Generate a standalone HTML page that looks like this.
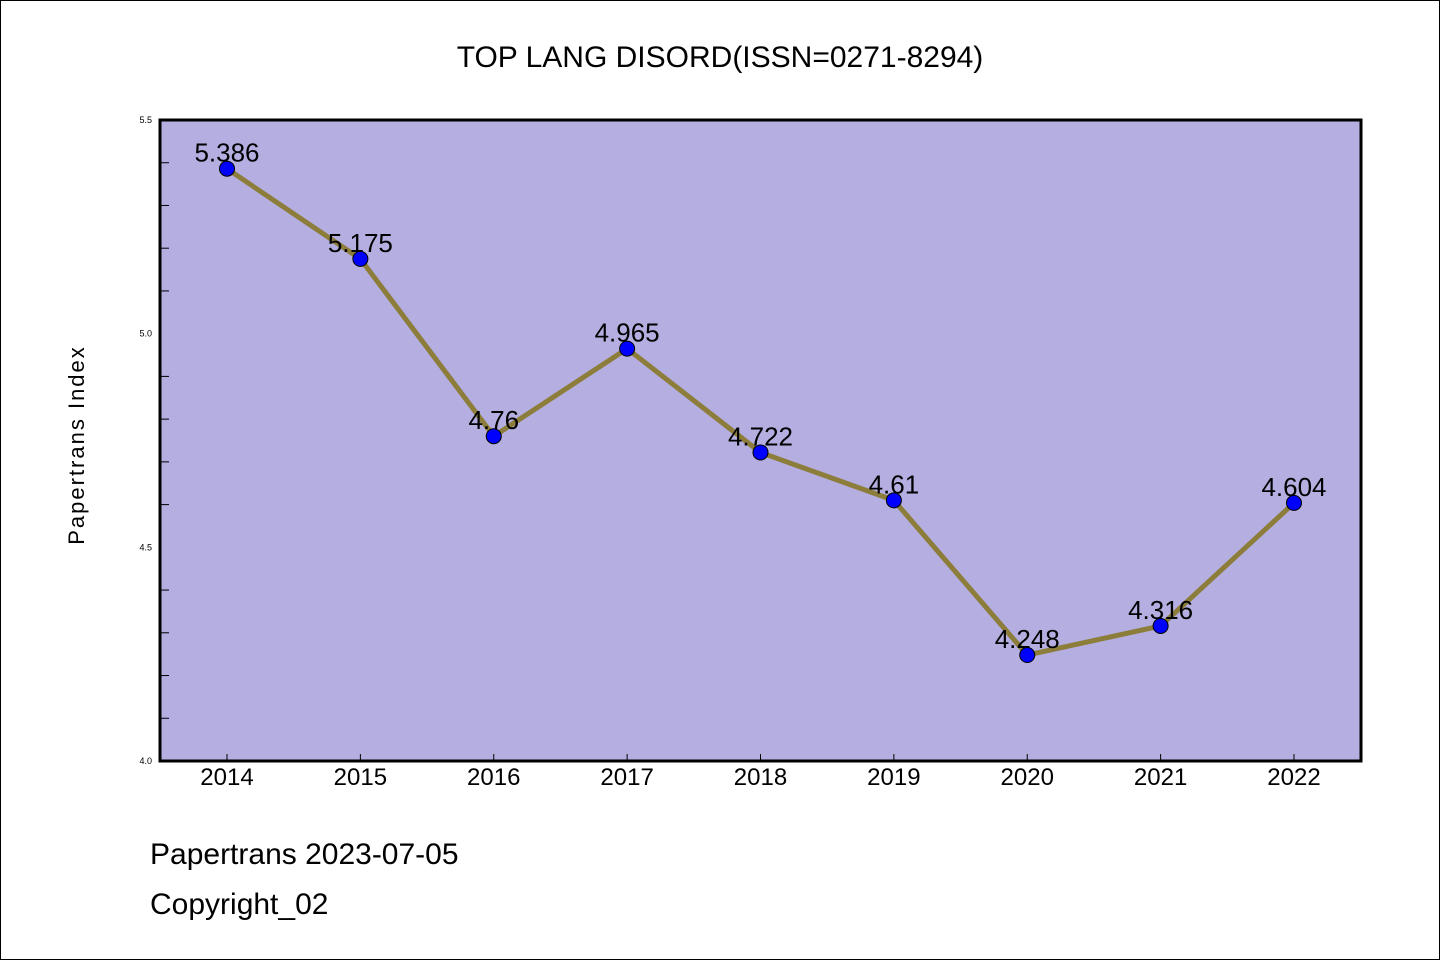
<!DOCTYPE html>
<html><head><meta charset="utf-8"><style>
html,body{margin:0;padding:0;background:#fff}
svg{display:block}
text{font-family:"WenQuanYi Zen Hei","Liberation Sans",sans-serif}
</style></head><body>
<svg id="chart" width="1440" height="960" viewBox="0 0 1440 960">
<rect x="0.5" y="0.5" width="1439" height="959" fill="#fff" stroke="#000"/>
<text x="720" y="67" font-size="30" text-anchor="middle">TOP LANG DISORD(ISSN=0271-8294)</text>
<rect x="160" y="120" width="1201" height="641" fill="#b4aee1"/>
<g id="axes"></g>
<g id="series"></g>
<rect x="160" y="120" width="1201" height="641" fill="none" stroke="#000" stroke-width="3"/>
<text transform="translate(84,445) rotate(-90)" font-size="22" text-anchor="middle" letter-spacing="2">Papertrans Index</text>
<text x="150" y="864" font-size="30">Papertrans 2023-07-05</text>
<text x="150" y="914" font-size="30">Copyright_02</text>
</svg>
<script>
const years = ["2014","2015","2016","2017","2018","2019","2020","2021","2022"];
const values = [5.386,5.175,4.76,4.965,4.722,4.61,4.248,4.316,4.604];
const valueLabels = ["5.386","5.175","4.76","4.965","4.722","4.61","4.248","4.316","4.604"];
const yTicks = [4.0,4.5,5.0,5.5];
const yTickLabels = ["4.0","4.5","5.0","5.5"];
const yMinor = [4.1,4.2,4.3,4.4,4.6,4.7,4.8,4.9,5.1,5.2,5.3,5.4];

const NS="http://www.w3.org/2000/svg";
const x0=227, dx=(1294-227)/8;
function xs(i){return x0+i*dx;}
function ys(v){return 761-(v-4.0)/1.5*641;}
function mk(tag,attrs,parent){const e=document.createElementNS(NS,tag);for(const k in attrs)e.setAttribute(k,attrs[k]);parent.appendChild(e);return e;}
const axes=document.getElementById('axes'), series=document.getElementById('series');
yTicks.forEach((v,i)=>{
  const t=mk('text',{x:152,y:ys(v)+3,'font-size':9,'text-anchor':'end'},axes);
  t.textContent=yTickLabels[i];
  
  
});
yMinor.forEach(v=>{
  const l=mk('line',{x1:160,x2:169,y1:ys(v),y2:ys(v),stroke:'#000','stroke-width':1},axes);
  
  
});
years.forEach((y,i)=>{
  const l=mk('line',{x1:xs(i),x2:xs(i),y1:761,y2:754,stroke:'#000','stroke-width':1},axes);
  
  
  const t=mk('text',{x:xs(i),y:785,'font-size':24,'text-anchor':'middle'},axes);
  t.textContent=y;
  
  
});
const pts=values.map((v,i)=>xs(i)+','+ys(v)).join(' ');
const pl=mk('polyline',{points:pts,fill:'none',stroke:'#8c7d3a','stroke-width':5,'stroke-linejoin':'round'},series);


values.forEach((v,i)=>{
  const c=mk('circle',{cx:xs(i),cy:ys(v),r:7.5,fill:'#0000ff',stroke:'#000','stroke-width':1},series);
  
  
  const t=mk('text',{x:xs(i),y:ys(v)-7,'font-size':26,'text-anchor':'middle'},series);
  t.textContent=valueLabels[i];
  
  
});
</script>
</body></html>
